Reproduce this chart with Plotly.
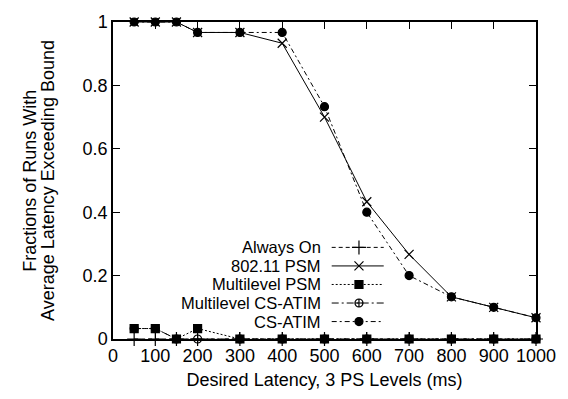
import plotly.graph_objects as go

# Desired latency bounds (ms)
latency = [50, 100, 150, 200, 300, 400, 500, 600, 700, 800, 900, 1000]

# Fraction of runs whose average latency exceeded the bound
always_on = [0, 0, 0, 0, 0, 0, 0, 0, 0, 0, 0, 0]
psm_80211 = [1, 1, 1, 0.967, 0.967, 0.933, 0.7, 0.433, 0.267, 0.133, 0.1, 0.067]
multilevel_psm = [0.033, 0.033, 0, 0.033, 0, 0, 0, 0, 0, 0, 0, 0]
multilevel_cs_atim = [0.033, 0.033, 0, 0, 0, 0, 0, 0, 0, 0, 0, 0]
cs_atim = [1, 1, 1, 0.967, 0.967, 0.967, 0.733, 0.4, 0.2, 0.133, 0.1, 0.067]

series_names = ["Always On", "802.11 PSM", "Multilevel PSM", "Multilevel CS-ATIM", "CS-ATIM"]
x_ticks = [0, 100, 200, 300, 400, 500, 600, 700, 800, 900, 1000]
y_ticks = [0, 0.2, 0.4, 0.6, 0.8, 1]
y_tick_labels = ["0", "0.2", "0.4", "0.6", "0.8", "1"]
y_title_lines = ["Fractions of Runs With", "Average Latency Exceeding Bound"]

styles = [
    dict(dash="4px,3px", symbol="cross-thin-open", size=10, lw=1.0),
    dict(dash="solid", symbol="x-thin-open", size=9, lw=1.0),
    dict(dash="2px,2px", symbol="square", size=8, lw=1.0),
    dict(dash="7px,3px,2px,3px", symbol="circle-cross-open", size=8, lw=1.0),
    dict(dash="5px,3px,2px,3px", symbol="circle", size=8, lw=1.0),
]
values = [always_on, psm_80211, multilevel_psm, multilevel_cs_atim, cs_atim]

FONT = "Liberation Sans, Arial, Helvetica, sans-serif"
FS = 18
KEY_FS = 16.5
fig = go.Figure()

for name, ys, st in zip(series_names, values, styles):
    fig.add_trace(go.Scatter(
        x=latency, y=ys, name=name, mode="lines+markers",
        line=dict(color="black", width=st["lw"], dash=st["dash"]),
        marker=dict(symbol=st["symbol"], size=st["size"], color="black",
                    line=dict(color="black", width=1.2)),
        showlegend=False, cliponaxis=False,
    ))

# Key: labels right-aligned, sample line with a marker to their right
key_x0, key_x1, key_text_x = 0.517, 0.640, 0.493
key_top, key_step = 0.289, 0.0585
for i, (name, st) in enumerate(zip(series_names, styles)):
    ky = key_top - i * key_step
    fig.add_trace(go.Scatter(
        x=[key_x0, key_x1], y=[ky, ky], xaxis="x2", yaxis="y2", mode="lines",
        line=dict(color="black", width=st["lw"], dash=st["dash"]),
        showlegend=False, hoverinfo="skip",
    ))
    fig.add_trace(go.Scatter(
        x=[(key_x0 + key_x1) / 2 + 0.003], y=[ky], xaxis="x2", yaxis="y2", mode="markers",
        marker=dict(symbol=st["symbol"], size=st["size"], color="black",
                    line=dict(color="black", width=1.2)),
        showlegend=False, hoverinfo="skip",
    ))
    fig.add_annotation(
        x=key_text_x, y=ky, xref="x2", yref="y2", text=name, showarrow=False,
        xanchor="right", yanchor="middle", borderpad=0,
        font=dict(size=KEY_FS, color="black", family=FONT),
    )

# Two-line vertical y-axis title with tight line spacing
for line_text, px in zip(y_title_lines, [-0.198, -0.155]):
    fig.add_annotation(
        x=px, y=0.5, xref="paper", yref="paper", text=line_text, showarrow=False,
        textangle=-90, xanchor="center", yanchor="middle", borderpad=0,
        font=dict(size=FS, color="black", family=FONT),
    )

axis_common = dict(
    showgrid=False, zeroline=False, showline=True, linecolor="black", linewidth=1.5,
    mirror="ticks", ticks="inside", ticklen=7, tickwidth=1.2, tickcolor="black",
    tickfont=dict(size=FS, color="black", family=FONT),
)
fig.update_layout(
    width=568, height=399,
    margin=dict(l=113, r=25, t=15, b=59),
    paper_bgcolor="white", plot_bgcolor="white",
    xaxis=dict(range=[0, 1000], tickvals=x_ticks, **axis_common,
               title=dict(text="Desired Latency, 3 PS Levels (ms)",
                          font=dict(size=FS, color="black", family=FONT), standoff=8)),
    yaxis=dict(range=[0, 1], tickvals=y_ticks, ticktext=y_tick_labels, **axis_common),
    xaxis2=dict(range=[0, 1], overlaying="x", visible=False, fixedrange=True),
    yaxis2=dict(range=[0, 1], overlaying="y", visible=False, fixedrange=True),
    showlegend=False,
)

fig.write_html("out.html")
